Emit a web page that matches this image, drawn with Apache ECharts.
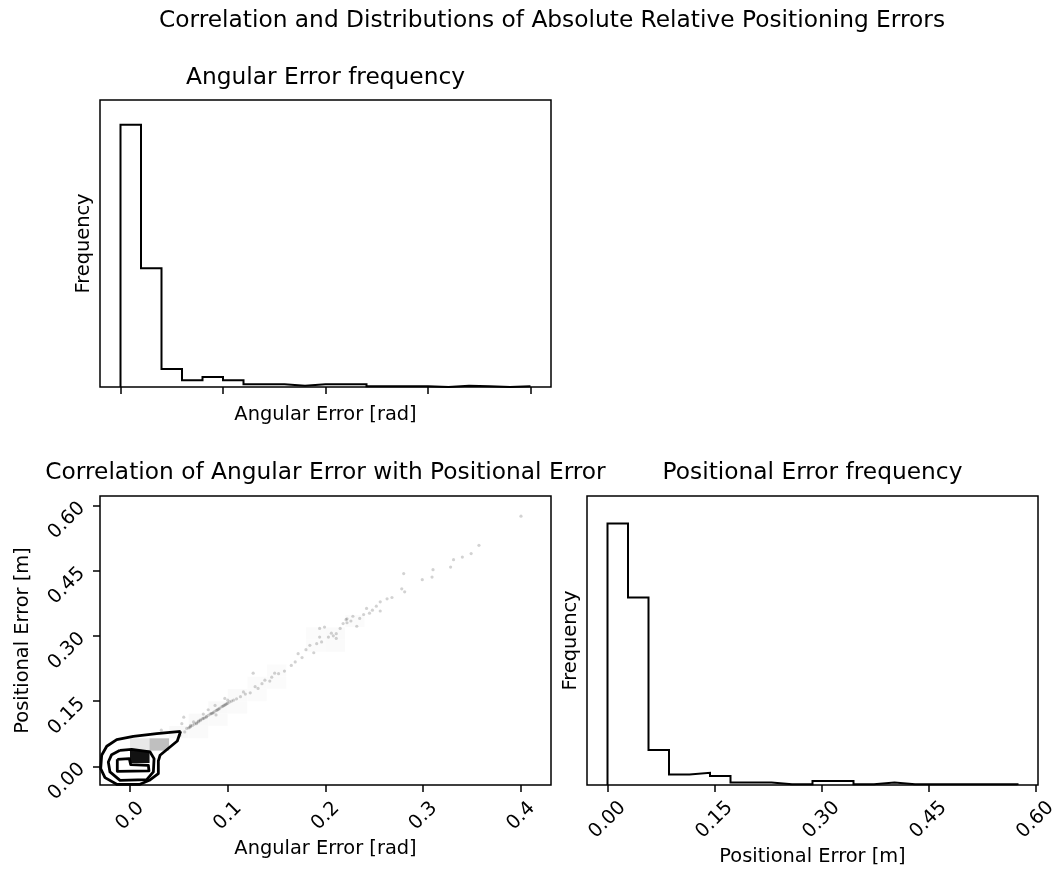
<!DOCTYPE html>
<html>
<head>
<meta charset="utf-8">
<script src="https://cdn.jsdelivr.net/npm/echarts@6/dist/echarts.min.js"></script>
<style>
  html, body { margin: 0; padding: 0; background: #fff; }
  #chart { width: 1056px; height: 873px; }
</style>
</head>
<body>
<div id="chart"></div>
<script>
// ---- Data ----
// Histogram of absolute angular error [rad], 20 equal bins over [0, 0.4]
const angularRange = [0, 0.4];
const angularCounts = [393, 178, 27, 10, 15, 10, 4, 4, 2, 4, 4, 4, 1, 1, 1, 0, 2, 1, 0, 1];

// Histogram of absolute positional error [m], 20 equal bins over [0, 0.575]
const positionalRange = [0, 0.575];
const positionalCounts = [322, 231, 43, 13, 15, 11, 3, 3, 1, 1, 5, 5, 1, 3, 1, 1, 1, 1, 1, 1];

// Individual samples (angular error, positional error) lying outside the density contours
const samplePoints = [
  [0.400, 0.575], [0.357, 0.508], [0.349, 0.489], [0.340, 0.481], [0.331, 0.475],
  [0.328, 0.458], [0.310, 0.452], [0.309, 0.435], [0.299, 0.429], [0.280, 0.443],
  [0.278, 0.408], [0.281, 0.401], [0.268, 0.388], [0.263, 0.385], [0.256, 0.378],
  [0.256, 0.357], [0.248, 0.359], [0.242, 0.363], [0.239, 0.349], [0.235, 0.340],
  [0.232, 0.322], [0.228, 0.345], [0.221, 0.337], [0.222, 0.339], [0.218, 0.328],
  [0.215, 0.317], [0.211, 0.305], [0.211, 0.294], [0.206, 0.306], [0.203, 0.297],
  [0.199, 0.320], [0.194, 0.317], [0.194, 0.297], [0.191, 0.282], [0.184, 0.278],
  [0.188, 0.261], [0.172, 0.259], [0.169, 0.240], [0.165, 0.232], [0.152, 0.213],
  [0.145, 0.205], [0.143, 0.196], [0.138, 0.198], [0.135, 0.190], [0.131, 0.179],
  [0.126, 0.214], [0.123, 0.169], [0.116, 0.171], [0.109, 0.155], [0.106, 0.152],
  [0.102, 0.148], [0.099, 0.144], [0.097, 0.156], [0.095, 0.138], [0.089, 0.129],
  [0.087, 0.140], [0.085, 0.123], [0.080, 0.130], [0.078, 0.113], [0.075, 0.120],
  [0.072, 0.107], [0.068, 0.098], [0.065, 0.102], [0.061, 0.090], [0.058, 0.087],
  [0.055, 0.113], [0.056, 0.079], [0.053, 0.098], [0.051, 0.071], [0.032, 0.083],
  [0.060, 0.088], [0.062, 0.091], [0.064, 0.094], [0.066, 0.097], [0.068, 0.100],
  [0.070, 0.102], [0.072, 0.105], [0.074, 0.109], [0.076, 0.111], [0.078, 0.114],
  [0.080, 0.117], [0.082, 0.120], [0.084, 0.122], [0.086, 0.125], [0.088, 0.128],
  [0.090, 0.131], [0.092, 0.134], [0.094, 0.137], [0.096, 0.140], [0.098, 0.142],
  [0.100, 0.145], [0.104, 0.150], [0.070, 0.104], [0.075, 0.110], [0.083, 0.121],
  [0.091, 0.132], [0.097, 0.141], [0.062, 0.094], [0.088, 0.118], [0.100, 0.152],
  [0.113, 0.160], [0.118, 0.166], [0.128, 0.183], [0.148, 0.214], [0.158, 0.219],
  [0.176, 0.250], [0.180, 0.268], [0.196, 0.286], [0.208, 0.300], [0.222, 0.330],
  [0.226, 0.334], [0.245, 0.352], [0.252, 0.368]
];

// 2D density bins: x bins of 0.02 rad from 0, y bins of 0.02837 m from 0.0076
const densityBinX = [0, 0.02];
const densityBinY = [0.0076, 0.02837];
// [column, row, relative density]
const densityCells = [
  [0, 0, 0.93], [0, 1, 0.09], [1, 1, 0.25],
  [2, 2, 0.025], [3, 2, 0.02], [3, 3, 0.025], [4, 3, 0.02], [4, 4, 0.025],
  [5, 4, 0.02], [5, 5, 0.02], [6, 5, 0.015], [6, 6, 0.015], [7, 6, 0.015],
  [7, 7, 0.015], [9, 9, 0.015], [10, 9, 0.02], [10, 10, 0.02], [9, 10, 0.015],
  [11, 11, 0.015]
];

// Density contour levels (outer, middle, inner)
const contourOuter = [
  [0.0518, 0.0805], [0.0484, 0.0582], [0.0307, 0.0253], [0.029, 0.0122],
  [0.029, -0.0168], [0.0198, -0.0322], [0.0102, -0.0414], [-0.0136, -0.0414],
  [-0.0256, -0.026], [-0.030, -0.0053], [-0.029, 0.0253], [-0.0238, 0.046],
  [-0.0136, 0.0613], [0.0034, 0.069], [0.0273, 0.0751], [0.0518, 0.0805]
];
const contourMiddle = [
  [-0.0102, 0.0368], [0.0017, 0.039], [0.0205, 0.033], [0.0246, 0.0176],
  [0.0239, -0.013], [0.0171, -0.0306], [-0.0102, -0.0322], [-0.0205, -0.013],
  [-0.0222, 0.0099], [-0.0188, 0.0268], [-0.0102, 0.0368]
];
const contourInner = [
  [-0.013, 0.0161], [-0.0007, 0.0176], [0.0007, 0.0038], [0.0188, 0.0023],
  [0.0194, -0.0107], [-0.013, -0.0115], [-0.013, 0.0161]
];

// Tick values and labels
const angularTicks = [0, 0.1, 0.2, 0.3, 0.4];
const angularTickLabels = ['0.0', '0.1', '0.2', '0.3', '0.4'];
const positionalTicks = [0, 0.15, 0.3, 0.45, 0.6];
const positionalTickLabels = ['0.00', '0.15', '0.30', '0.45', '0.60'];

// ---- Helpers ----
const FONT = '"DejaVu Sans", Verdana, sans-serif';
const INK = '#000';
const TITLE_SIZE = 23.3;
const LABEL_SIZE = 19.4;

// Outline of a step histogram: up the first edge, across each bin, down the last edge
function stepOutline(counts, range) {
  const w = (range[1] - range[0]) / counts.length;
  const pts = [[range[0], 0]];
  counts.forEach((c, i) => {
    pts.push([range[0] + i * w, c], [range[0] + (i + 1) * w, c]);
  });
  pts.push([range[1], 0]);
  return pts;
}

function labelFor(ticks, labels) {
  return v => {
    let best = 0;
    ticks.forEach((t, i) => { if (Math.abs(t - v) < Math.abs(ticks[best] - v)) best = i; });
    return labels[best];
  };
}

const hiddenLine = { show: false, onZero: false };
const tickStyle = (values) => ({
  show: true, customValues: values, length: 7, inside: false,
  lineStyle: { color: INK, width: 1.5 }
});
const nameStyle = { fontSize: LABEL_SIZE, fontFamily: FONT, color: INK, lineHeight: 23 };
const labelText = { fontSize: LABEL_SIZE, fontFamily: FONT, color: INK };

const gridBase = {
  show: true, borderColor: INK, borderWidth: 1.5, backgroundColor: 'transparent',
  containLabel: false, outerBoundsMode: 'none'
};

function titleText(text, x, y) {
  return {
    type: 'text', x: x, y: y, silent: true,
    style: { text: text, font: TITLE_SIZE + 'px ' + FONT, fill: INK, align: 'center', verticalAlign: 'middle' }
  };
}

const chart = echarts.init(document.getElementById('chart'), null, { renderer: 'canvas' });

const option = {
  animation: false,
  backgroundColor: '#fff',
  graphic: [
    titleText('Correlation and Distributions of Absolute Relative Positioning Errors', 552, 21),
    titleText('Angular Error frequency', 325.5, 78),
    titleText('Correlation of Angular Error with Positional Error', 325.5, 473),
    titleText('Positional Error frequency', 812.5, 473)
  ],
  grid: [
    Object.assign({ left: 100, top: 100, width: 451, height: 287 }, gridBase),
    Object.assign({ left: 100, top: 496, width: 451, height: 289 }, gridBase),
    Object.assign({ left: 587, top: 496, width: 451, height: 289 }, gridBase)
  ],
  xAxis: [
    {
      gridIndex: 0, type: 'value', min: -0.02, max: 0.42,
      axisLine: hiddenLine, splitLine: { show: false },
      axisTick: tickStyle(angularTicks),
      axisLabel: { show: false },
      name: 'Angular Error [rad]', nameLocation: 'middle', nameGap: 16, nameTextStyle: nameStyle
    },
    {
      gridIndex: 1, type: 'value', min: -0.0307, max: 0.4307,
      axisLine: hiddenLine, splitLine: { show: false },
      axisTick: tickStyle(angularTicks),
      axisLabel: Object.assign({
        customValues: angularTicks, rotate: 45, align: 'center', verticalAlign: 'middle',
        margin: 31, formatter: labelFor(angularTicks, angularTickLabels)
      }, labelText),
      name: 'Angular Error [rad]', nameLocation: 'middle', nameGap: 52.5, nameTextStyle: nameStyle
    },
    {
      gridIndex: 2, type: 'value', min: -0.02875, max: 0.60375,
      axisLine: hiddenLine, splitLine: { show: false },
      axisTick: tickStyle(positionalTicks),
      axisLabel: Object.assign({
        customValues: positionalTicks, rotate: 45, align: 'center', verticalAlign: 'middle',
        margin: 35, formatter: labelFor(positionalTicks, positionalTickLabels)
      }, labelText),
      name: 'Positional Error [m]', nameLocation: 'middle', nameGap: 60, nameTextStyle: nameStyle
    }
  ],
  yAxis: [
    {
      gridIndex: 0, type: 'value', min: 0, max: 430,
      axisLine: hiddenLine, splitLine: { show: false },
      axisTick: { show: false }, axisLabel: { show: false },
      name: 'Frequency', nameLocation: 'middle', nameGap: 4.5, nameTextStyle: nameStyle
    },
    {
      gridIndex: 1, type: 'value', min: -0.043, max: 0.6214,
      axisLine: hiddenLine, splitLine: { show: false },
      axisTick: tickStyle(positionalTicks),
      axisLabel: Object.assign({
        customValues: positionalTicks, rotate: 45, margin: 18,
        formatter: labelFor(positionalTicks, positionalTickLabels)
      }, labelText),
      name: 'Positional Error [m]', nameLocation: 'middle', nameGap: 65.5, nameTextStyle: nameStyle
    },
    {
      gridIndex: 2, type: 'value', min: 0, max: 356,
      axisLine: hiddenLine, splitLine: { show: false },
      axisTick: { show: false }, axisLabel: { show: false },
      name: 'Frequency', nameLocation: 'middle', nameGap: 5, nameTextStyle: nameStyle
    }
  ],
  series: [
    {
      name: 'angular histogram', type: 'line', xAxisIndex: 0, yAxisIndex: 0,
      data: stepOutline(angularCounts, angularRange),
      showSymbol: false, symbol: 'none', silent: true,
      lineStyle: { color: INK, width: 2, join: 'miter' }
    },
    {
      name: 'positional histogram', type: 'line', xAxisIndex: 2, yAxisIndex: 2,
      data: stepOutline(positionalCounts, positionalRange),
      showSymbol: false, symbol: 'none', silent: true,
      lineStyle: { color: INK, width: 2, join: 'miter' }
    },
    {
      name: 'samples', type: 'scatter', xAxisIndex: 1, yAxisIndex: 1,
      data: samplePoints, symbol: 'circle', symbolSize: 3.2, silent: true, z: 2,
      itemStyle: { color: 'rgba(0,0,0,0.22)' }
    },
    {
      name: 'density', type: 'custom', xAxisIndex: 1, yAxisIndex: 1, z: 3, silent: true,
      data: densityCells,
      renderItem: (params, api) => {
        const col = api.value(0), row = api.value(1), level = api.value(2);
        const x0 = densityBinX[0] + col * densityBinX[1];
        const y0 = densityBinY[0] + row * densityBinY[1];
        const p0 = api.coord([x0, y0]);
        const p1 = api.coord([x0 + densityBinX[1], y0 + densityBinY[1]]);
        return {
          type: 'rect',
          shape: { x: p0[0], y: p1[1], width: p1[0] - p0[0], height: p0[1] - p1[1] },
          style: { fill: 'rgba(0,0,0,' + level + ')' }
        };
      },
      clip: true
    },
    ...[contourOuter, contourMiddle, contourInner].map((c, i) => ({
      name: 'contour ' + i, type: 'line', xAxisIndex: 1, yAxisIndex: 1, z: 4,
      data: c, showSymbol: false, symbol: 'none', silent: true, clip: true,
      lineStyle: { color: INK, width: 2.8, join: 'round' }
    }))
  ]
};

chart.setOption(option);
</script>
</body>
</html>
